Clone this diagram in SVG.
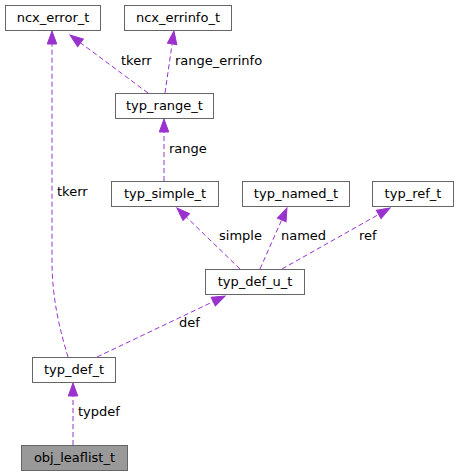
<svg xmlns="http://www.w3.org/2000/svg" width="458" height="476" viewBox="0 0 458 476">
<style>
.box{fill:#ffffff;stroke:#666666;stroke-width:1}
.cur{fill:#999999;stroke:#666666;stroke-width:1}
text{font-family:"DejaVu Sans",sans-serif;font-size:13px;fill:#000000}
.n{text-anchor:middle}
.e{fill:none;stroke:#9a32cd;stroke-width:1;stroke-dasharray:5,3;marker-end:url(#ah)}
</style>
<defs>
<marker id="ah" markerUnits="userSpaceOnUse" markerWidth="14" markerHeight="10" refX="0" refY="4.75" orient="auto" overflow="visible">
<path d="M0,0 L13,4.75 L0,9.5 Z" fill="#9a32cd" stroke="#9a32cd" stroke-width="1"/>
</marker>
</defs>
<rect width="458" height="476" fill="#ffffff"/>
<g id="edges">
<path class="e" d="M68,357 C60,330 52,300 52,260 L52,44"/>
<path class="e" d="M148,93 L80.5,42.8"/>
<path class="e" d="M165,93 L172.1,43.9"/>
<path class="e" d="M164,181 L164,132"/>
<path class="e" d="M240,269 L186.3,217"/>
<path class="e" d="M260,269 L281.7,219.9"/>
<path class="e" d="M282,269 L378.7,214.4"/>
<path class="e" d="M97,357 L213.3,301.6"/>
<path class="e" d="M73,445 L73,396"/>
<text x="57" y="196">tkerr</text>
<text x="121" y="65">tkerr</text>
<text x="175" y="65">range_errinfo</text>
<text x="169" y="153">range</text>
<text x="219" y="240">simple</text>
<text x="281" y="240">named</text>
<text x="359" y="240">ref</text>
<text x="179" y="327">def</text>
<text x="78" y="416">typdef</text>
</g>
<g id="ncx_error_t"><rect class="box" x="5.5" y="5.5" width="95" height="25"/><text class="n" x="53" y="22">ncx_error_t</text></g>
<g id="ncx_errinfo_t"><rect class="box" x="124.5" y="5.5" width="107" height="25"/><text class="n" x="178" y="22">ncx_errinfo_t</text></g>
<g id="typ_range_t"><rect class="box" x="115.5" y="93.5" width="98" height="25"/><text class="n" x="164.5" y="110">typ_range_t</text></g>
<g id="typ_simple_t"><rect class="box" x="111.5" y="181.5" width="107" height="25"/><text class="n" x="165" y="198">typ_simple_t</text></g>
<g id="typ_named_t"><rect class="box" x="242.5" y="181.5" width="107" height="25"/><text class="n" x="296" y="198">typ_named_t</text></g>
<g id="typ_ref_t"><rect class="box" x="372.5" y="181.5" width="81" height="25"/><text class="n" x="413" y="198">typ_ref_t</text></g>
<g id="typ_def_u_t"><rect class="box" x="205.5" y="269.5" width="99" height="25"/><text class="n" x="255" y="286">typ_def_u_t</text></g>
<g id="typ_def_t"><rect class="box" x="32.5" y="357.5" width="83" height="25"/><text class="n" x="74" y="374">typ_def_t</text></g>
<g id="obj_leaflist_t"><rect class="cur" x="21.5" y="445.5" width="106" height="25"/><text class="n" x="74.5" y="462">obj_leaflist_t</text></g>
</svg>
